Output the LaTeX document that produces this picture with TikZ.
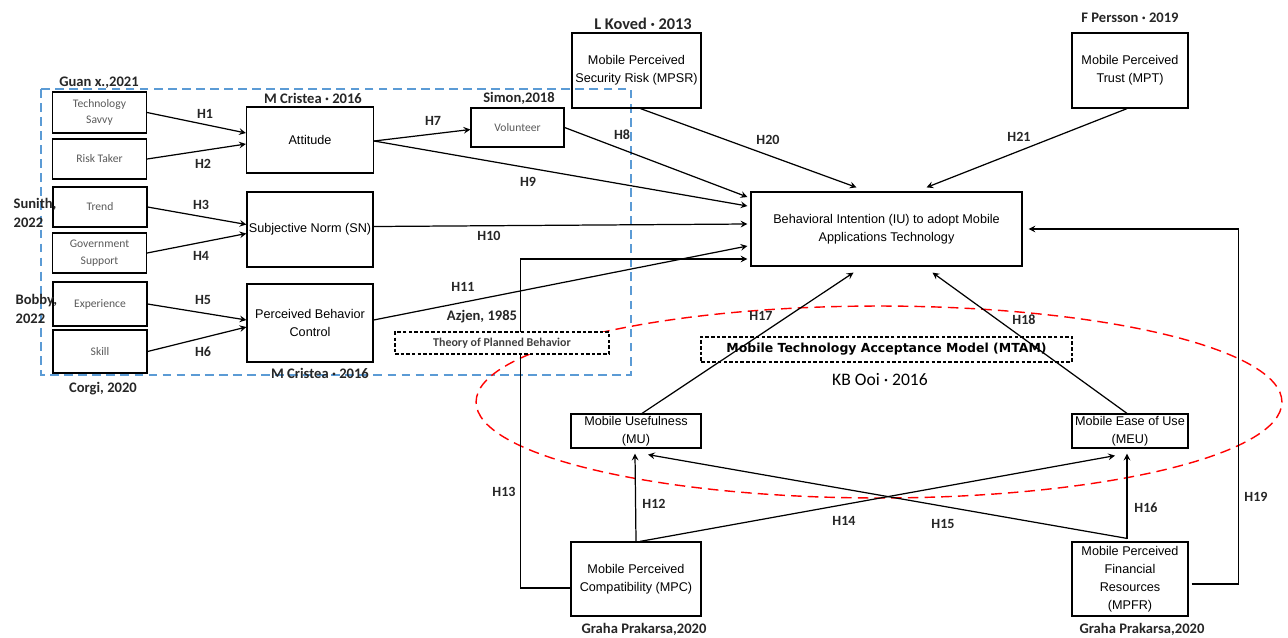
\documentclass[tikz,border=0pt]{standalone}
\usepackage{fontspec}
\setmainfont{Liberation Sans}
\newfontfamily\calfont{Carlito}
\newfontfamily\verdfont{DejaVu Sans}
\usetikzlibrary{calc}
\definecolor{tpbblue}{RGB}{91,155,213}

\begin{document}
\begin{tikzpicture}[
    x=0.02cm, y=-0.02cm, line width=0.7pt,
    box/.style={draw, align=center, inner sep=1pt, font=\fontsize{7.2}{10.2}\selectfont},
    sbox/.style={draw, align=center, inner sep=1pt, minimum width=1.88cm, text=black!65, font=\calfont\fontsize{6.6}{9.4}\selectfont},
    hyp/.style={font=\calfont\bfseries\fontsize{8}{9}\selectfont, text=black!85},
    cite/.style={font=\calfont\bfseries\fontsize{8.3}{10.8}\selectfont, text=black!85},
    theory/.style={draw, dash pattern=on 2pt off 1.2pt, inner sep=0pt}
]
    \useasboundingbox (0,0) rectangle (1288,637);
    \draw[tpbblue, dash pattern=on 5pt off 3pt] (41,89) rectangle (631,375);
    \draw[red, dash pattern=on 6pt off 3.5pt, line width=0.8pt] (879,402) ellipse [x radius=8.06cm, y radius=1.92cm];

    \node[sbox, minimum height=0.82cm] (ts) at (99.5,112.5) {Technology\\Savvy};
    \node[sbox, minimum height=0.8cm] (rt) at (99.5,159) {Risk Taker};
    \node[sbox, minimum height=0.8cm] (tr) at (100,207) {Trend};
    \node[sbox, minimum height=0.8cm] (gs) at (99.5,253) {Government\\Support};
    \node[sbox, minimum height=0.88cm] (ex) at (100,304) {Experience};
    \node[sbox, minimum height=0.86cm] (sk) at (100,351.5) {Skill};
    \node[box, minimum width=2.54cm, minimum height=1.32cm] (att) at (310,140) {Attitude};
    \node[box, minimum width=2.52cm, minimum height=1.5cm] (sn) at (310,229.5) {Subjective Norm (SN)};
    \node[box, minimum width=2.52cm, minimum height=1.56cm] (pbc) at (310,323) {Perceived Behavior\\Control};
    \node[sbox, minimum width=1.86cm, minimum height=0.78cm] (vol) at (517.5,127.5) {Volunteer};
    \node[box, minimum width=2.58cm, minimum height=1.5cm] (mpsr) at (636.5,70.5) {Mobile Perceived\\Security Risk (MPSR)};
    \node[box, minimum width=2.32cm, minimum height=1.5cm] (mpt) at (1130,70.5) {Mobile Perceived\\Trust (MPT)};
    \node[box, minimum width=5.42cm, minimum height=1.48cm] (bi) at (886.5,229) {Behavioral Intention (IU) to adopt Mobile\\Applications Technology};
    \node[box, minimum width=2.6cm, minimum height=0.68cm] (mu) at (636,431) {Mobile Usefulness\\(MU)};
    \node[box, minimum width=2.32cm, minimum height=0.68cm] (meu) at (1130,431) {Mobile Ease of Use\\(MEU)};
    \node[box, minimum width=2.6cm, minimum height=1.48cm] (mpc) at (636,579) {Mobile Perceived\\Compatibility (MPC)};
    \node[box, minimum width=2.32cm, minimum height=1.48cm] (mpfr) at (1130,579) {Mobile Perceived\\Financial\\Resources\\(MPFR)};

    \draw[->, >=stealth] (ts.east) -- ($(att.west)+(0,-7)$);
    \draw[->, >=stealth] (rt.east) -- ($(att.west)+(0,4)$);
    \draw[->, >=stealth] (tr.east) -- ($(sn.west)+(0,-5)$);
    \draw[->, >=stealth] (gs.east) -- ($(sn.west)+(0,4)$);
    \draw[->, >=stealth] (ex.east) -- ($(pbc.west)+(0,-3)$);
    \draw[->, >=stealth] (sk.east) -- ($(pbc.west)+(0,4)$);
    \draw[->, >=stealth] ($(att.east)+(0,1)$) -- ($(vol.west)+(0,2)$);
    \draw[->, >=stealth] (vol.east) -- ($(bi.west)+(-3,-32)$);
    \draw[->, >=stealth] ($(att.east)+(0,1)$) -- ($(bi.west)+(-3,-23)$);
    \draw[->, >=stealth] ($(sn.east)+(0,-3)$) -- ($(bi.west)+(-3,-5)$);
    \draw[->, >=stealth] ($(pbc.east)+(0,-3)$) -- ($(bi.west)+(-3,17)$);
    \draw[->, >=stealth] ($(mpc.west)+(0,9)$) -- ++(-50,0) |- ($(bi.west)+(-3,30)$);
    \draw[->, >=stealth] (mpc.north) -- ($(mu.south)+(-1,5)$);
    \draw[->, >=stealth] ($(mpc.north)+(4,0)$) -- ($(meu.south)+(-15,7)$);
    \draw[->, >=stealth] ($(mpfr.north)+(-3,-3)$) -- ($(mu.south)+(12,6)$);
    \draw[->, >=stealth] ($(mpfr.north)+(-3,-2)$) -- ($(meu.south)+(-3,5)$);
    \draw[->, >=stealth] ($(mu.north)+(6,0)$) -- ($(bi.south)+(-33,6)$);
    \draw[->, >=stealth] ($(meu.north)+(-3,0)$) -- ($(bi.south)+(46,6)$);
    \draw[->, >=stealth] ($(mpfr.east)+(3,5)$) -- ++(47,0) |- ($(bi.east)+(6,0)$);
    \draw[->, >=stealth] ($(mpsr.south)+(4,0)$) -- ($(bi.north)+(-30,-4)$);
    \draw[->, >=stealth] ($(mpt.south)+(-3,0)$) -- ($(bi.north)+(40,-4)$);

    \node[theory, fill=white, minimum width=4.28cm, minimum height=0.44cm, text=black!75, font=\calfont\bfseries\fontsize{6.8}{8}\selectfont] (tpb) at (502,343) {Theory of Planned Behavior};
    \node[theory, minimum width=7.42cm, minimum height=0.5cm, font=\verdfont\bfseries\fontsize{7.1}{8}\selectfont] (mtam) at (886.5,349.5) {Mobile Technology Acceptance Model (MTAM)};

    \node[hyp] (h1) at (205,114) {H1};
    \node[hyp] (h2) at (203,164) {H2};
    \node[hyp] (h3) at (201,205) {H3};
    \node[hyp] (h4) at (201,256) {H4};
    \node[hyp] (h5) at (203,300) {H5};
    \node[hyp] (h6) at (203,352) {H6};
    \node[hyp] (h7) at (433,121) {H7};
    \node[hyp] (h8) at (622,135) {H8};
    \node[hyp] (h9) at (528,182) {H9};
    \node[hyp] (h10) at (489,236) {H10};
    \node[hyp] (h11) at (463,287) {H11};
    \node[hyp] (h12) at (654,504) {H12};
    \node[hyp] (h13) at (504,492) {H13};
    \node[hyp] (h14) at (844,521) {H14};
    \node[hyp] (h15) at (943,524) {H15};
    \node[hyp] (h16) at (1146,508) {H16};
    \node[hyp] (h17) at (761,316) {H17};
    \node[hyp] (h18) at (1024,320) {H18};
    \node[hyp] (h19) at (1256,497) {H19};
    \node[hyp] (h20) at (768,140) {H20};
    \node[hyp] (h21) at (1019,137) {H21};

    \node[cite] (guan) at (99,83) {Guan x.,2021};
    \node[cite] (cris1) at (313,98) {M Cristea · 2016};
    \node[cite] (cris2) at (320,373) {M Cristea · 2016};
    \node[cite, align=left, anchor=west, inner sep=0pt] (sun) at (13,212.5) {Sunith,\\2022};
    \node[cite, align=left, anchor=west, inner sep=0pt] (bob) at (15,308.5) {Bobby,\\2022};
    \node[cite] (corgi) at (103,389) {Corgi, 2020};
    \node[cite] (simon) at (519,98) {Simon,2018};
    \node[cite, font=\calfont\bfseries\fontsize{9.3}{10.8}\selectfont] (koved) at (643,24) {L Koved · 2013};
    \node[cite] (pers) at (1130,18) {F Persson · 2019};
    \node[cite] (azjen) at (482,317) {Azjen, 1985};
    \node[cite, font=\calfont\fontsize{10}{12}\selectfont, text=black] (ooi) at (880,380) {KB Ooi · 2016};
    \node[cite] (graha1) at (644,629) {Graha Prakarsa,2020};
    \node[cite] (graha2) at (1142,629) {Graha Prakarsa,2020};
\end{tikzpicture}
\end{document}
